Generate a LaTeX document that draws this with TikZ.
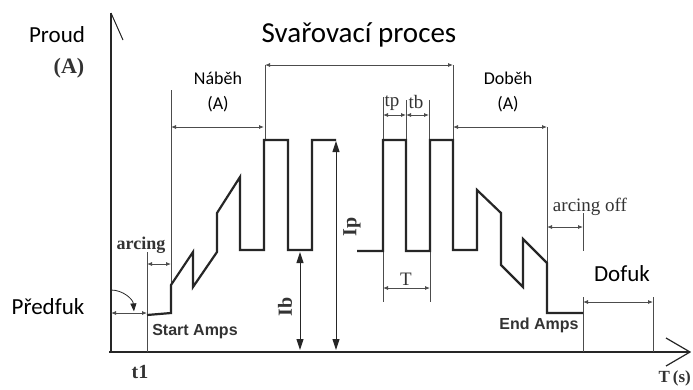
\documentclass[tikz,border=0pt]{standalone}
\usepackage{fontspec}
\setmainfont{Liberation Serif}
\newfontfamily\calfont{Carlito}
\newfontfamily\arialfont{Liberation Sans}
\usetikzlibrary{arrows.meta}

\begin{document}
\begin{tikzpicture}[
  x=1pt, y=-1pt,
  axis/.style  = {line width=2.6pt, black!85},
  wave/.style  = {line width=2.2pt, black!85, line join=miter},
  ext/.style   = {line width=0.8pt, black!70},
  dim/.style   = {{Latex[length=5pt,width=4pt]}-{Latex[length=5pt,width=4pt]},
                  line width=0.8pt, black!70},
  big/.style   = {{Triangle[length=11pt,width=7pt]}-{Triangle[length=11pt,width=7pt]},
                  line width=1pt, black!85},
  cz/.style    = {font=\calfont\fontsize{18}{25}\selectfont, align=center},
  czbig/.style = {font=\calfont\fontsize{23}{26}\selectfont},
  ser/.style   = {font=\fontsize{19}{21}\selectfont, text=black!80, inner sep=0pt},
  serb/.style  = {font=\fontsize{20}{22}\selectfont\bfseries, text=black!80, inner sep=0pt},
  amps/.style  = {font=\arialfont\fontsize{16}{18}\selectfont\bfseries, text=black!80}
]
\path[use as bounding box, fill=white] (0,0) rectangle (693,389);

%% Axes
\coordinate (ytop) at (111,13);
\coordinate (xend) at (690,352);
\draw[axis] (111,353) -- (ytop);
\draw[line width=1pt, black!85] (ytop) -- (123,40);
\draw[axis] (109,352) -- (xend);
\draw[line width=1.2pt, black!85] (666,338) -- (xend) -- (666,366);

%% Extension lines
\draw[ext] (147,252) -- (147,352);
\draw[ext] (171,90)  -- (171,285);
\draw[ext] (265,65)  -- (265,140);
\draw[ext] (453,65)  -- (453,140);
\draw[ext] (547,127) -- (547,263);
\draw[ext] (583,213) -- (583,352);
\draw[ext] (653,297) -- (653,352);
\draw[ext] (383,97)  -- (383,140);
\draw[ext] (406,100) -- (406,140);
\draw[ext] (429,100) -- (429,140);
\draw[ext] (383,251) -- (383,302);
\draw[ext] (430,251) -- (430,302);

%% Current waveform
\draw[wave] (147,315) -- (171,313) -- (171,285) -- (193,252) -- (193,287)
  -- (217,252) -- (217,213) -- (240,177) -- (240,250) -- (264,250)
  -- (264,140) -- (288,140) -- (288,250) -- (312,250) -- (312,140) -- (336,140);
\draw[wave] (357,251) -- (383,251) -- (383,140) -- (406,140) -- (406,251)
  -- (430,251) -- (430,140) -- (453,140) -- (453,250) -- (477,250)
  -- (477,190) -- (501,213) -- (501,265) -- (523,287) -- (523,239)
  -- (547,263) -- (547,313) -- (583,313);

%% Ib, Ip
\draw[big] (300,252) -- (300,350);
\draw[big] (336,141) -- (336,350);

%% Dimension arrows
\draw[dim] (111,313) -- (147,313);
\draw[dim] (147,264) -- (171,264);
\draw[dim] (171,127) -- (264,127);
\draw[dim] (265,65)  -- (453,65);
\draw[dim] (453,127) -- (547,127);
\draw[dim] (383,115) -- (406,115);
\draw[dim] (406,115) -- (429,115);
\draw[dim] (383,288) -- (430,288);
\draw[dim] (547,227) -- (583,227);
\draw[dim] (583,302) -- (653,302);
\draw[-{Triangle[length=8pt,width=6pt]}, line width=0.8pt, black!85]
  (111,290) arc[start angle=-90, end angle=-4, radius=23];

%% Labels
\node[czbig] (proud) at (57,35) {Proud};
\node[serb, font=\fontsize{22}{24}\selectfont\bfseries] (unitA) at (69,68) {(A)};
\node[cz, font=\calfont\fontsize{29}{32}\selectfont] (title) at (359,35) {Svařovací proces};
\node[cz] (nabeh) at (218,92) {Náběh\\(A)};
\node[cz] (dobeh) at (508,92) {Doběh\\(A)};
\node[czbig] (predfuk) at (48,307) {Předfuk};
\node[czbig, fill=white, minimum width=100pt, minimum height=46pt] (dofuk) at (622,274) {Dofuk};
\node[serb, font=\fontsize{18}{20}\selectfont\bfseries] (arcing) at (141,245) {arcing};
\node[amps] (startA) at (195,332) {Start Amps};
\node[amps] (endA) at (539,325) {End Amps};
\node[serb] (tone) at (140,372) {t1};
\node[serb, rotate=90] (ib) at (285,307) {Ib};
\node[serb, rotate=90] (ip) at (352,227) {Ip};
\node[ser] (tp) at (392,103) {tp};
\node[ser] (tb) at (416,102) {tb};
\node[ser] (per) at (406,279) {T};
\node[ser] (arcoff) at (590,207) {arcing off};
\node[serb, anchor=east, font=\fontsize{17}{19}\selectfont\bfseries] (tsec) at (691,378) {T\,(s)};
\end{tikzpicture}
\end{document}
